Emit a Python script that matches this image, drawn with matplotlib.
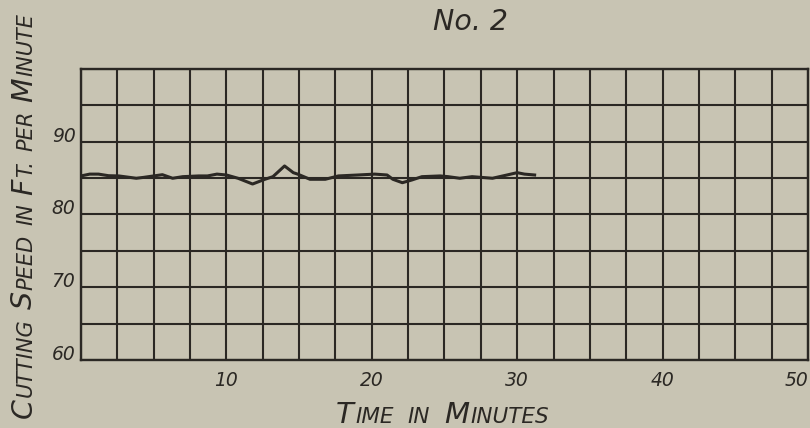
import numpy as np
import matplotlib.pyplot as plt

# time (min) and cutting speed (ft/min)
minutes = [0, 0.6, 1.2, 1.9, 2.6, 3.8, 4.3, 5.0, 5.6, 6.3, 7.0, 8.1, 8.7, 9.35,
           10.0, 10.8, 11.8, 12.65, 13.2, 14.0, 14.6, 14.9, 15.75, 16.4, 16.8,
           17.7, 19.05, 20.2, 21.05, 21.45, 22.1, 22.75, 23.45, 24.7, 25.25,
           26.05, 26.9, 28.3, 29.3, 30.0, 30.5, 31.2]
speed = [85.3, 85.55, 85.55, 85.33, 85.3, 84.98, 85.1, 85.3, 85.47, 84.98,
         85.2, 85.3, 85.3, 85.55, 85.43, 84.98, 84.19, 84.84, 85.2, 86.67,
         85.75, 85.55, 84.84, 84.84, 84.84, 85.3, 85.43, 85.55, 85.43, 84.84,
         84.37, 84.74, 85.2, 85.3, 85.2, 84.98, 85.2, 84.98, 85.43, 85.75,
         85.55, 85.43]

xticks = [10, 20, 30, 40, 50]
yticks = [60, 70, 80, 90]

paper = '#c8c4b3'
ink = '#2b2824'
font = dict(family='DejaVu Sans', style='italic', color=ink)

fig = plt.figure(figsize=(8.1, 4.28), dpi=100, facecolor=paper)
ax = fig.add_axes([0.1, 0.1589, 0.8975, 0.6799], facecolor=paper)

ax.plot(minutes, speed, color=ink, lw=2.2, solid_joinstyle='round', zorder=3)

ax.set_xlim(0, 50)
ax.set_ylim(60, 100)
ax.set_xticks(np.arange(0, 50.1, 2.5), minor=True)
ax.set_yticks(np.arange(60, 100.1, 5), minor=True)
ax.set_xticks(xticks)
ax.set_xticklabels([str(v) for v in xticks], fontsize=13.5, **font)
ax.set_yticks(yticks)
ax.set_yticklabels([str(v) for v in yticks], fontsize=13.5, va='baseline', **font)
ax.xaxis.get_ticklabels()[-1].set_horizontalalignment('right')
ax.tick_params(which='both', length=0)
ax.tick_params(axis='x', pad=8)
ax.tick_params(axis='y', pad=4)
ax.grid(which='both', color=ink, lw=1.5)
for s in ax.spines.values():
    s.set_color(ink)
    s.set_linewidth(1.7)

fig.text(0.581, 0.93, 'No. 2', fontsize=20.5, ha='center', va='baseline', **font)


def caps_text(x, y, pieces, vertical=False):
    # fake small caps: chain text pieces of different sizes on one baseline
    prev = None
    for text, size, gap in pieces:
        kw = dict(fontsize=size, ha='left', va='baseline', rotation_mode='anchor',
                  rotation=90 if vertical else 0, **font)
        if prev is None:
            prev = fig.text(x, y, text, **kw)
        elif vertical:
            prev = ax.annotate(text, xy=(x, 1), xycoords=('figure fraction', prev),
                               xytext=(0, gap), textcoords='offset points',
                               annotation_clip=False, **kw)
        else:
            prev = ax.annotate(text, xy=(1, y), xycoords=(prev, 'figure fraction'),
                               xytext=(gap, 0), textcoords='offset points',
                               annotation_clip=False, **kw)


big, small, sp = 20.5, 15, 6.5
caps_text(0.0395, 0.023, [('C', big, 0), ('UTTING', small, 1), ('S', big, sp),
                          ('PEED', small, 1), ('IN', small, sp), ('F', big, sp),
                          ('T.', small, 1), ('PER', small, sp), ('M', big, sp),
                          ('INUTE', small, 1)], vertical=True)
caps_text(0.415, 0.0117, [('T', 21, 0), ('IME', 15.5, 1), ('IN', 15.5, 10),
                          ('M', 21, 10), ('INUTES', 15.5, 1)])

fig.savefig('out.png', dpi=100, facecolor=paper)
